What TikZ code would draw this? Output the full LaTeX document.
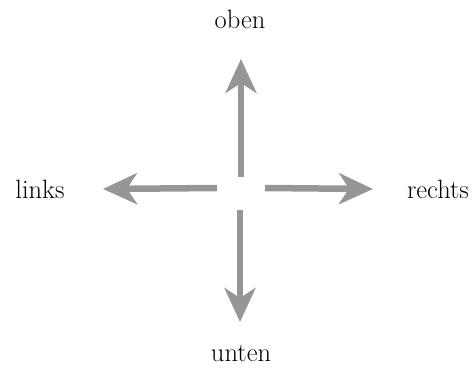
\documentclass[tikz,border=0pt]{standalone}
\usepackage{fontspec}
\usetikzlibrary{arrows.meta}
\definecolor{arrowgray}{RGB}{150,150,150}
\begin{document}
\begin{tikzpicture}[x=1pt,y=-1pt,
  lbl/.style={font=\fontsize{26.5}{31}\selectfont, inner sep=0pt},
  brush/.style={draw=arrowgray, line width=6.5pt,
    -{Stealth[length=34pt,width=31pt,inset=10pt,fill=arrowgray]}}]
\useasboundingbox (0,0) rectangle (476,374);
\node[lbl] (oben) at (240,19) {oben};
\node[lbl] (unten) at (241,353) {unten};
\node[lbl] (links) at (40,189) {links};
\node[lbl] (rechts) at (438,189) {rechts};
\coordinate (us) at (241,177);
\coordinate (ue) at (241,59);
\coordinate (ds) at (240,210);
\coordinate (de) at (240,322);
\coordinate (ls) at (217,188);
\coordinate (le) at (103,189);
\coordinate (rs) at (265,188);
\coordinate (re) at (373,189);
\draw[brush] (us) -- (ue);
\draw[brush] (ds) -- (de);
\draw[brush] (ls) -- (le);
\draw[brush] (rs) -- (re);
\end{tikzpicture}
\end{document}
